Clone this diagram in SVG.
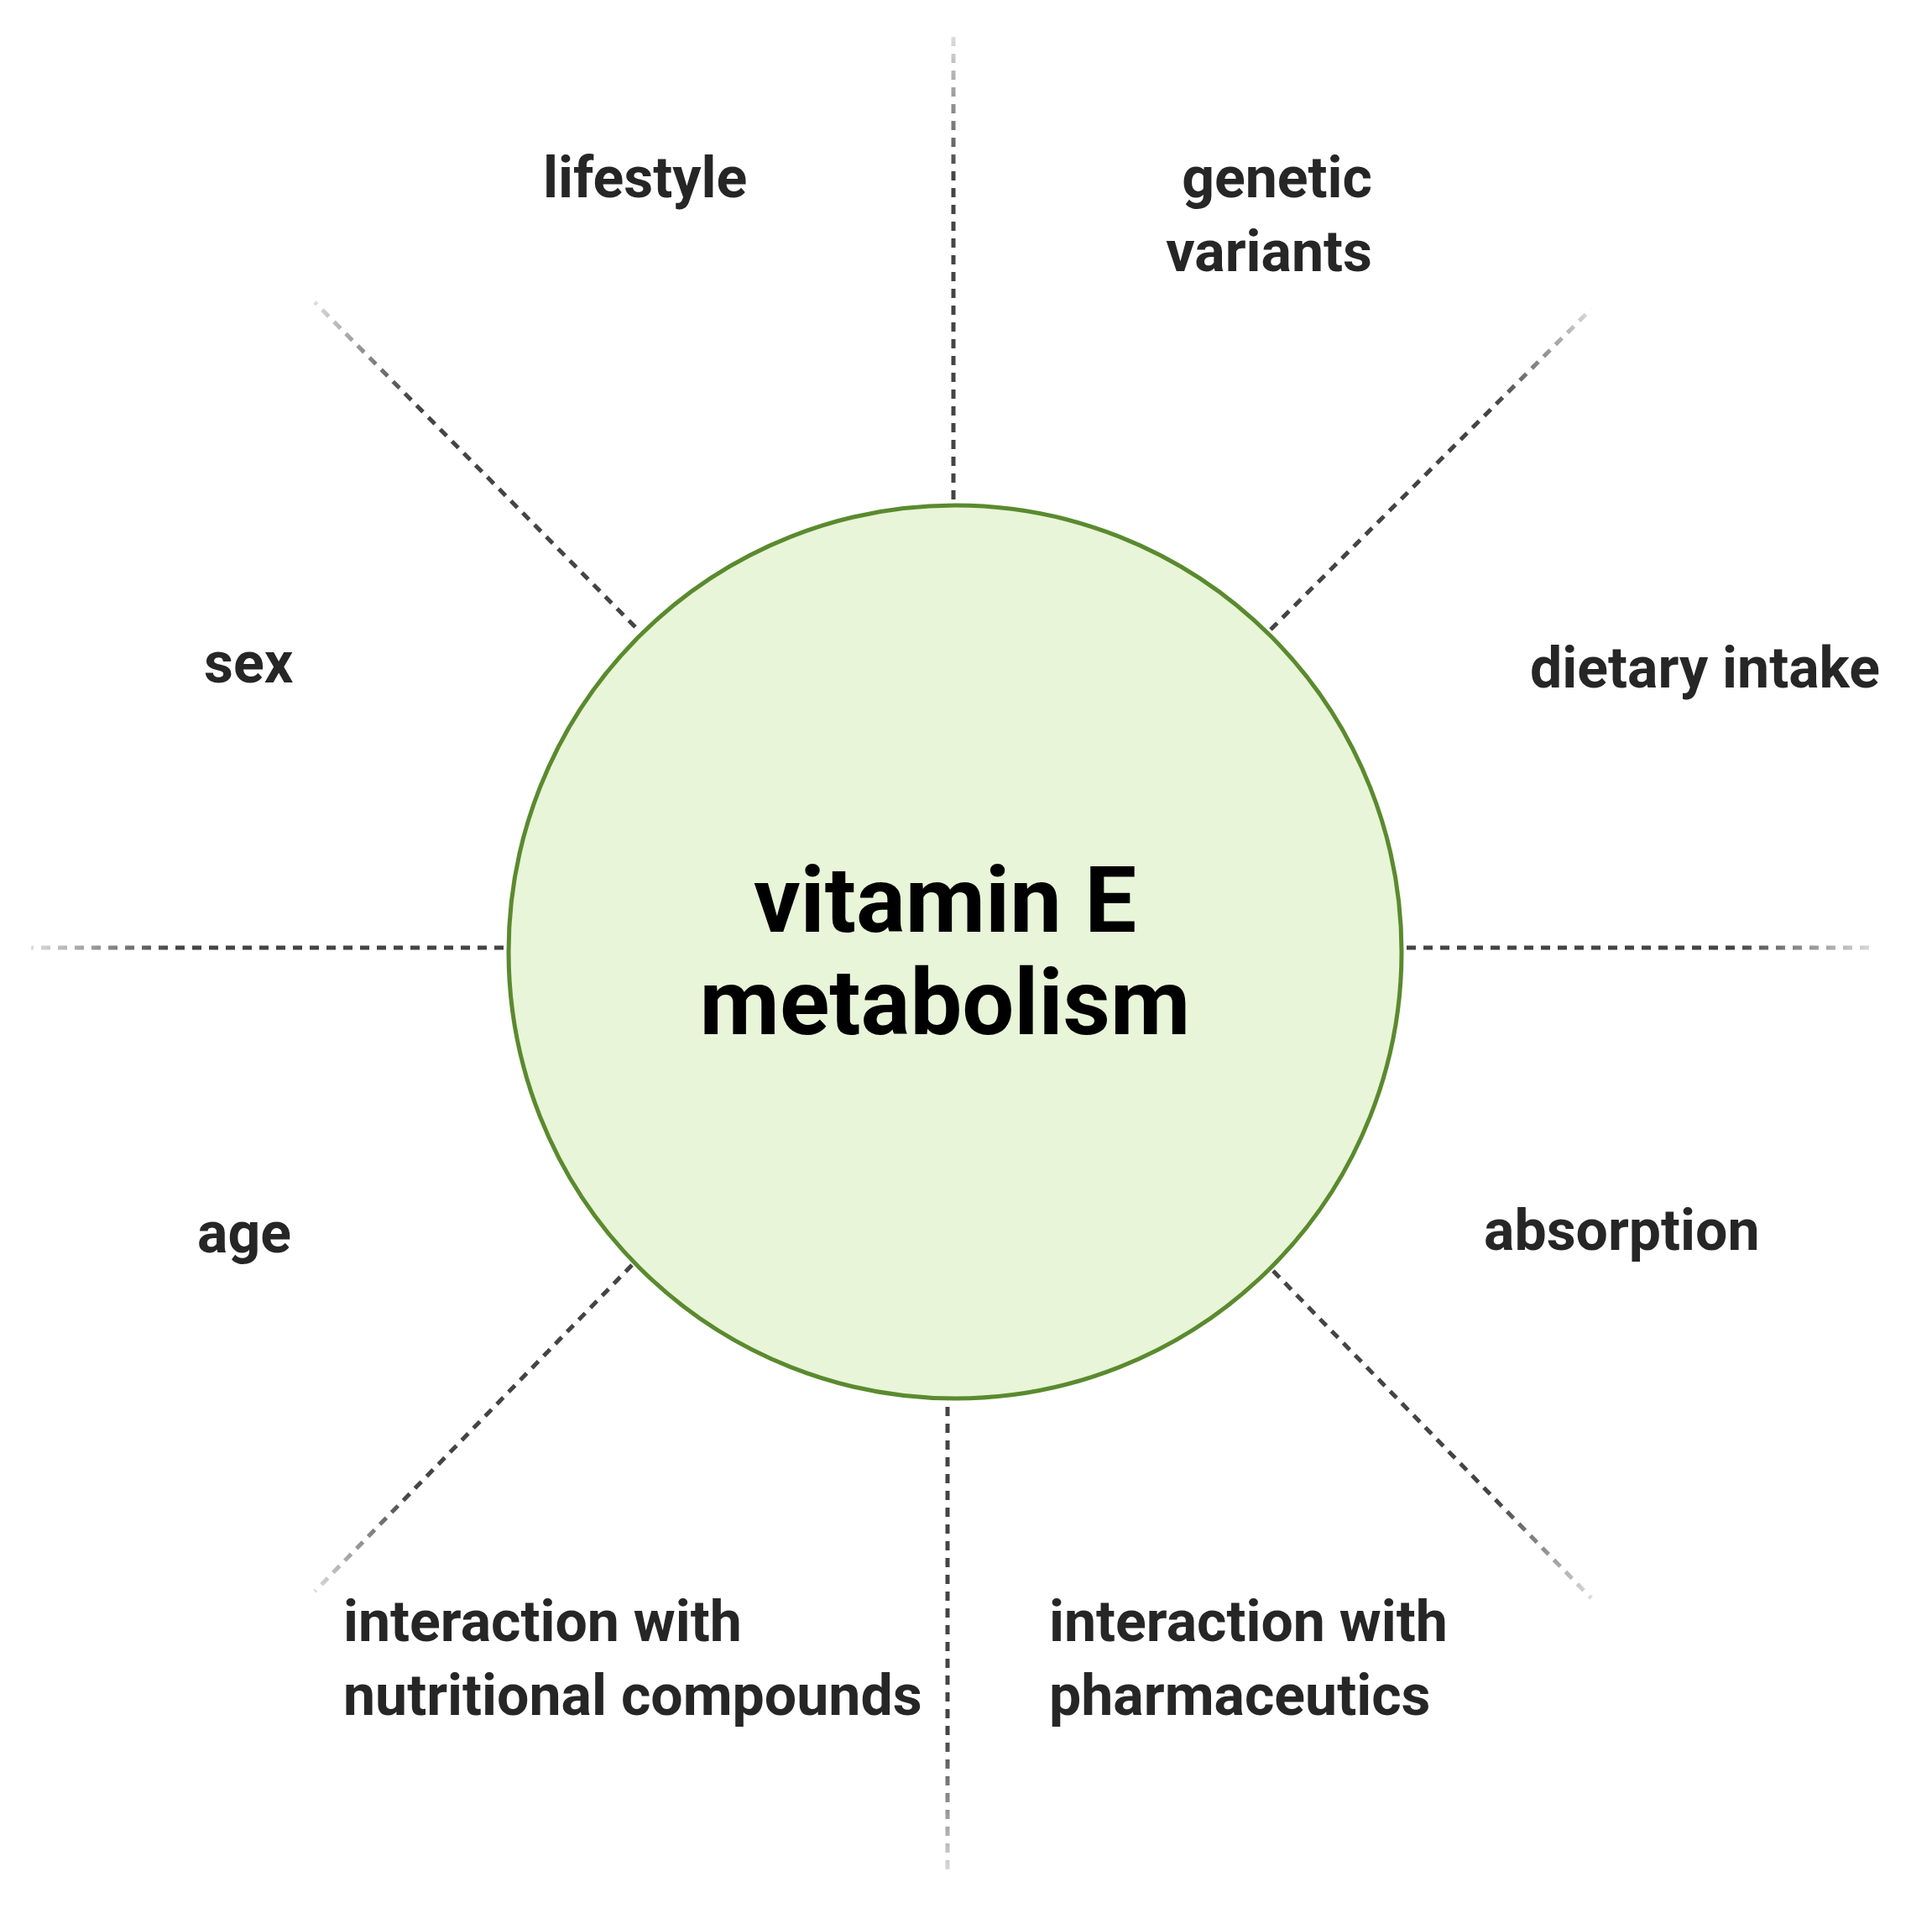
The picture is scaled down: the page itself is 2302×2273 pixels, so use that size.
<svg xmlns="http://www.w3.org/2000/svg" width="2302" height="2273" viewBox="0 0 2302 2273">
<style>
.l{font-family:Roboto,"Liberation Sans",sans-serif;font-weight:bold;font-size:68px;fill:#262626}
.c{font-family:Roboto,"Liberation Sans",sans-serif;font-weight:bold;font-size:110px;fill:#000;text-anchor:middle}
.d{stroke-width:5;stroke-dasharray:11 9;fill:none}
</style>
<defs>
<linearGradient id="gU" gradientUnits="userSpaceOnUse" x1="1136" y1="595" x2="1136" y2="44"><stop offset="0.7" stop-color="#444"/><stop offset="1" stop-color="#ddd"/></linearGradient>
<linearGradient id="gD" gradientUnits="userSpaceOnUse" x1="1129" y1="1676" x2="1129" y2="2234"><stop offset="0.7" stop-color="#444"/><stop offset="1" stop-color="#ddd"/></linearGradient>
<linearGradient id="gL" gradientUnits="userSpaceOnUse" x1="600" y1="1129" x2="37" y2="1129"><stop offset="0.7" stop-color="#444"/><stop offset="1" stop-color="#ddd"/></linearGradient>
<linearGradient id="gR" gradientUnits="userSpaceOnUse" x1="1676" y1="1129" x2="2234" y2="1129"><stop offset="0.7" stop-color="#444"/><stop offset="1" stop-color="#ddd"/></linearGradient>
<linearGradient id="gUL" gradientUnits="userSpaceOnUse" x1="757" y1="747" x2="375" y2="360"><stop offset="0.7" stop-color="#444"/><stop offset="1" stop-color="#ddd"/></linearGradient>
<linearGradient id="gUR" gradientUnits="userSpaceOnUse" x1="1514" y1="750" x2="1896" y2="368"><stop offset="0.7" stop-color="#444"/><stop offset="1" stop-color="#ddd"/></linearGradient>
<linearGradient id="gDL" gradientUnits="userSpaceOnUse" x1="753" y1="1507" x2="375" y2="1896"><stop offset="0.7" stop-color="#444"/><stop offset="1" stop-color="#ddd"/></linearGradient>
<linearGradient id="gDR" gradientUnits="userSpaceOnUse" x1="1517" y1="1514" x2="1896" y2="1904"><stop offset="0.7" stop-color="#444"/><stop offset="1" stop-color="#ddd"/></linearGradient>
</defs>
<rect width="2302" height="2273" fill="#fff"/>
<g id="connectors">
<line class="d" x1="1136" y1="595" x2="1136" y2="44" stroke="url(#gU)"/>
<line class="d" x1="1129" y1="1676" x2="1129" y2="2234" stroke="url(#gD)"/>
<line class="d" x1="600" y1="1129" x2="37" y2="1129" stroke="url(#gL)"/>
<line class="d" x1="1676" y1="1129" x2="2234" y2="1129" stroke="url(#gR)"/>
<line class="d" x1="757" y1="747" x2="375" y2="360" stroke="url(#gUL)"/>
<line class="d" x1="1514" y1="750" x2="1896" y2="368" stroke="url(#gUR)"/>
<line class="d" x1="753" y1="1507" x2="375" y2="1896" stroke="url(#gDL)"/>
<line class="d" x1="1517" y1="1514" x2="1896" y2="1904" stroke="url(#gDR)"/>
</g>
<g id="center">
<circle cx="1138" cy="1134" r="532" fill="#e8f5d8" stroke="#5a8a2e" stroke-width="5"/>
<text class="c" x="1126" y="1110">vitamin E</text>
<text class="c" x="1126" y="1232">metabolism</text>
</g>
<g id="lifestyle"><text class="l" x="647" y="235">lifestyle</text></g>
<g id="genetic"><text class="l" x="1635" y="235" text-anchor="end">genetic</text><text class="l" x="1635" y="323" text-anchor="end">variants</text></g>
<g id="dietary"><text class="l" x="1823" y="819">dietary intake</text></g>
<g id="sex"><text class="l" x="243" y="813">sex</text></g>
<g id="age"><text class="l" x="235" y="1492">age</text></g>
<g id="absorption"><text class="l" x="1768" y="1489">absorption</text></g>
<g id="nutritional"><text class="l" x="409" y="1955">interaction with</text><text class="l" x="409" y="2043">nutritional compounds</text></g>
<g id="pharma"><text class="l" x="1250" y="1955">interaction with</text><text class="l" x="1250" y="2043">pharmaceutics</text></g>
</svg>
